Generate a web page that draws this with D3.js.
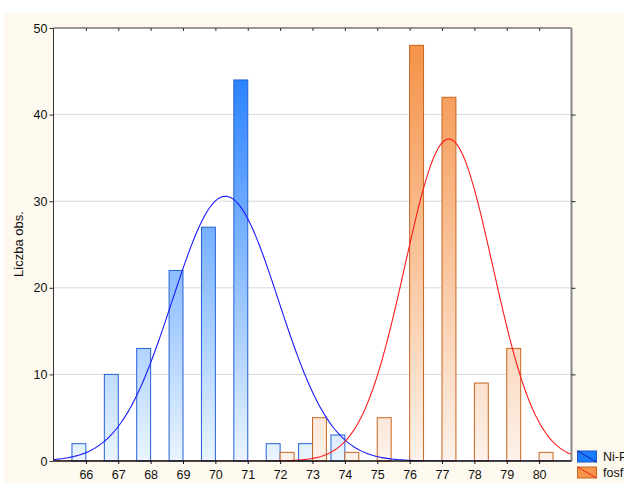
<!DOCTYPE html>
<html><head><meta charset="utf-8">
<script src="https://cdn.jsdelivr.net/npm/d3@7"></script>
<style>html,body{margin:0;padding:0;background:#fff;overflow:hidden}</style>
</head><body>
<svg id="c" width="624" height="483"></svg>
<script>
const bins = [66,67,68,69,70,71,72,73,74,75,76,77,78,79,80];
const niP  = [2,10,13,22,27,44,2,2,3,0,0,0,0,0,0];
const fosf = [0,0,0,0,0,0,1,5,1,5,48,42,9,13,1];
const yTicks = [0,10,20,30,40,50];
const seriesNames = ["Ni-P","fosf"];
const niPFit  = {mean:70.31, sd:1.64,  peak:30.57};
const fosfFit = {mean:77.21, sd:1.355, peak:37.18};

const svg = d3.select("#c");
const L=53.5, R=571.5, T=28, B=461;
const x = d3.scaleLinear().domain([65,81]).range([L,R]);
const y = d3.scaleLinear().domain([0,50]).range([B,T]);
const font = "Liberation Sans, Arial, sans-serif";

svg.append("rect").attr("x",4).attr("y",13).attr("width",620).attr("height",470).attr("fill","#fdf9ee");
svg.append("rect").attr("x",L).attr("y",T).attr("width",R-L).attr("height",B-T).attr("fill","#fff");

const defs = svg.append("defs");
function grad(id, top, bot){
  const g = defs.append("linearGradient").attr("id",id).attr("gradientUnits","userSpaceOnUse")
    .attr("x1",0).attr("x2",0).attr("y1",T).attr("y2",B);
  g.append("stop").attr("offset",0).attr("stop-color",top);
  g.append("stop").attr("offset",1).attr("stop-color",bot);
}
grad("gb","#1274ff","#eaf5ff");
grad("go","#f48f42","#fdf2ea");
defs.append("clipPath").attr("id","clip").append("rect").attr("x",L).attr("y",T).attr("width",R-L).attr("height",B-T);

// grid
svg.append("g").selectAll("line").data(yTicks.filter(d=>d>0&&d<50)).join("line")
  .attr("x1",L).attr("x2",R).attr("y1",d=>y(d)).attr("y2",d=>y(d))
  .attr("stroke","#d9d9d9").attr("stroke-width",1);

const bw = 0.43;
const bars = svg.append("g");
bars.selectAll("rect.b").data(bins.map((b,i)=>({b,v:niP[i]})).filter(d=>d.v>0)).join("rect")
  .attr("x",d=>x(d.b-bw)).attr("width",d=>x(d.b)-x(d.b-bw))
  .attr("y",d=>y(d.v)).attr("height",d=>y(0)-y(d.v))
  .attr("fill","url(#gb)").attr("stroke","#2462d6").attr("stroke-width",1);
bars.selectAll("rect.o").data(bins.map((b,i)=>({b,v:fosf[i]})).filter(d=>d.v>0)).join("rect")
  .attr("x",d=>x(d.b)).attr("width",d=>x(d.b+bw)-x(d.b))
  .attr("y",d=>y(d.v)).attr("height",d=>y(0)-y(d.v))
  .attr("fill","url(#go)").attr("stroke","#c8651f").attr("stroke-width",1);

// fitted normal curves
function curve(p){
  const pts = d3.range(65,81.001,0.05).map(v=>[v, p.peak*Math.exp(-0.5*Math.pow((v-p.mean)/p.sd,2))]);
  return d3.line().x(d=>x(d[0])).y(d=>y(d[1]))(pts);
}
const cg = svg.append("g").attr("clip-path","url(#clip)");
cg.append("path").attr("d",curve(niPFit)).attr("fill","none").attr("stroke","#1a1aff").attr("stroke-width",1.1);
cg.append("path").attr("d",curve(fosfFit)).attr("fill","none").attr("stroke","#ff1a1a").attr("stroke-width",1.1);

// frame
svg.append("line").attr("x1",L).attr("x2",R).attr("y1",T).attr("y2",T).attr("stroke","#333");
svg.append("line").attr("x1",L).attr("x2",L).attr("y1",T).attr("y2",B).attr("stroke","#333");
svg.append("line").attr("x1",R).attr("x2",R).attr("y1",T).attr("y2",B).attr("stroke","#888").attr("stroke-width",2);
svg.append("line").attr("x1",L).attr("x2",R).attr("y1",B).attr("y2",B).attr("stroke","#111").attr("stroke-width",1.5);

// bottom axis
const gxB = svg.append("g").attr("transform",`translate(0,${B})`)
  .call(d3.axisBottom(x).tickValues(bins).tickSize(3).tickFormat(d3.format("d")).tickSizeOuter(0));
gxB.select(".domain").remove();
gxB.selectAll("line").attr("stroke","#111");
gxB.selectAll("text").attr("font-family",font).attr("font-size",12.5).attr("fill","#111").attr("dy","0.95em");
// top ticks inward
const gxT = svg.append("g").attr("transform",`translate(0,${T})`)
  .call(d3.axisBottom(x).tickValues(bins).tickSize(3).tickFormat("").tickSizeOuter(0));
gxT.select(".domain").remove();
gxT.selectAll("line").attr("stroke","#333");
// left
const gyL = svg.append("g").attr("transform",`translate(${L},0)`)
  .call(d3.axisLeft(y).tickValues(yTicks).tickSize(4).tickSizeOuter(0).tickFormat(d3.format("d")));
gyL.select(".domain").remove();
gyL.selectAll("line").attr("stroke","#333");
gyL.selectAll("text").attr("font-family",font).attr("font-size",12.5).attr("fill","#111").attr("x",-6);
// right
const gyR = svg.append("g").attr("transform",`translate(${R},0)`)
  .call(d3.axisRight(y).tickValues(yTicks.filter(d=>d>0&&d<50)).tickSize(4).tickSizeOuter(0).tickFormat(""));
gyR.select(".domain").remove();
gyR.selectAll("line").attr("stroke","#222");

svg.append("text").attr("transform","translate(22.5,244) rotate(-90)").attr("text-anchor","middle")
  .attr("font-family",font).attr("font-size",13).attr("fill","#111").text("Liczba obs.");

// legend
const lg = svg.append("g");
const legCols = [{fill:"#1a7cff",line:"#10249a"},{fill:"#f5954c",line:"#ee2222"}];
seriesNames.forEach((n,i)=>{
  const yy = 451 + i*16;
  lg.append("rect").attr("x",577.5).attr("y",yy).attr("width",19).attr("height",11)
    .attr("fill",legCols[i].fill).attr("stroke",i?"#c8651f":"#1c55c8");
  lg.append("line").attr("x1",577.5).attr("y1",yy).attr("x2",596.5).attr("y2",yy+11)
    .attr("stroke",legCols[i].line).attr("stroke-width",1);
  lg.append("text").attr("x",603).attr("y",yy+10).attr("font-family",font).attr("font-size",12.5)
    .attr("fill","#111").text(n);
});
</script>
</body></html>
